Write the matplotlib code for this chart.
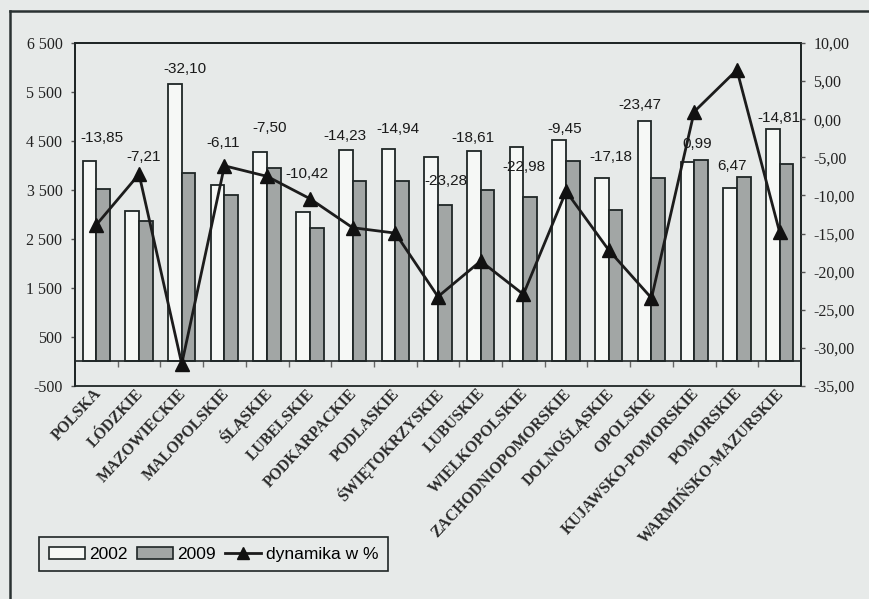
import numpy as np
import matplotlib
matplotlib.use("Agg")
import matplotlib.pyplot as plt
from matplotlib.lines import Line2D
from matplotlib.patches import Rectangle
from matplotlib.ticker import FixedLocator

regions = ["POLSKA", "LÓDZKIE", "MAZOWIECKIE", "MALOPOLSKIE", "ŚLĄSKIE",
           "LUBELSKIE", "PODKARPACKIE", "PODLASKIE", "ŚWIĘTOKRZYSKIE",
           "LUBUSKIE", "WIELKOPOLSKIE", "ZACHODNIOPOMORSKIE", "DOLNOŚLĄSKIE",
           "OPOLSKIE", "KUJAWSKO-POMORSKIE", "POMORSKIE", "WARMIŃSKO-MAZURSKIE"]
v2002 = [4100, 3080, 5670, 3610, 4270, 3050, 4310, 4330, 4170,
         4290, 4370, 4530, 3735, 4905, 4075, 3545, 4735]
v2009 = [3530, 2860, 3850, 3390, 3950, 2730, 3690, 3680, 3200,
         3490, 3365, 4100, 3095, 3755, 4115, 3775, 4035]
dynamika = [-13.85, -7.21, -32.10, -6.11, -7.50, -10.42, -14.23, -14.94, -23.28,
            -18.61, -22.98, -9.45, -17.18, -23.47, 0.99, 6.47, -14.81]

# where the value labels sit (right-axis units) and their sideways nudge
label_y = [-2.4, -5.0, 6.6, -3.1, -1.1, -7.2, -2.2, -1.3, -8.1,
           -2.4, -6.3, -1.3, -5.0, 1.9, -3.2, -6.1, 0.2]
label_dx = [0.13, 0.10, 0.08, -0.04, 0.06, -0.07, -0.18, 0.06, 0.18,
            -0.17, 0.01, -0.04, 0.04, -0.28, 0.06, -0.12, -0.01]

BG = "#e7eae9"
EDGE = "#1f2626"
SANS = ["Liberation Sans", "DejaVu Sans"]
SERIF = ["Liberation Serif", "DejaVu Serif"]

fig = plt.figure(figsize=(8.69, 5.99), dpi=100, facecolor=BG)
ax = fig.add_axes([0.0863, 0.3556, 0.8354, 0.5726])
ax.set_facecolor(BG)

x = np.arange(len(regions))
w = 0.32
ax.bar(x - w / 2, v2002, w, color="#f6f8f6", edgecolor=EDGE, linewidth=1.3, zorder=2)
ax.bar(x + w / 2, v2009, w, color="#a2a6a5", edgecolor=EDGE, linewidth=1.3, zorder=2)

ax.set_xlim(-0.5, len(regions) - 0.5)
ax.set_ylim(-500, 6500)
lticks = np.arange(-500, 6501, 1000)
ax.set_yticks(lticks)
ax.set_yticklabels([f"{t:,.0f}".replace(",", " ") for t in lticks],
                   family=SERIF, fontsize=11.5, color="#222")
ax.tick_params(axis="y", length=3, width=1, color="#555", pad=6)

# category axis runs along zero, ticks between groups
ax.spines["bottom"].set_position(("data", 0))
ax.spines["bottom"].set_color(EDGE)
ax.spines["bottom"].set_linewidth(1.2)
ax.set_xticks([])
ax.xaxis.set_minor_locator(FixedLocator(x[:-1] + 0.5))
ax.tick_params(axis="x", which="minor", length=4, width=1, color="#666", direction="out")
for s in ("left", "top", "right"):
    ax.spines[s].set_color(EDGE)
    ax.spines[s].set_linewidth(1.3)
ax.add_patch(Rectangle((0, 0), 1, 1, transform=ax.transAxes, fill=False,
                       edgecolor=EDGE, linewidth=1.3, clip_on=False, zorder=5))

for xi, name in zip(x, regions):
    ax.text(xi + 0.05, -0.015, name, transform=ax.get_xaxis_transform(),
            rotation=47, rotation_mode="anchor", ha="right", va="center",
            family=SERIF, fontsize=11.3, fontweight="bold", color="#2a2a2a")

ax2 = ax.twinx()
ax2.set_ylim(-35, 10)
rticks = np.arange(-35, 10.1, 5)
ax2.set_yticks(rticks)
ax2.set_yticklabels([f"{t:.2f}".replace(".", ",") for t in rticks],
                    family=SERIF, fontsize=11.5, color="#222")
ax2.tick_params(axis="y", length=3, width=1, color="#555", pad=6)
for s in ax2.spines.values():
    s.set_visible(False)

ax2.plot(x, dynamika, color="#1c1c1c", lw=2, marker="^", markersize=10.5,
         markerfacecolor="#111", markeredgecolor="#111", zorder=3)
for xi, v, ly, dx in zip(x, dynamika, label_y, label_dx):
    ax2.text(xi + dx, ly, f"{v:.2f}".replace(".", ","), ha="center", va="center",
             family=SANS, fontsize=11, color="#1a1a1a", zorder=4)

handles = [Rectangle((0, 0), 1, 1, facecolor="#f6f8f6", edgecolor=EDGE, lw=1.2),
           Rectangle((0, 0), 1, 1, facecolor="#a2a6a5", edgecolor=EDGE, lw=1.2),
           Line2D([], [], color="#1c1c1c", lw=2, marker="^", markersize=8,
                  markerfacecolor="#111", markeredgecolor="#111")]
leg = fig.legend(handles, ["2002", "2009", "dynamika w %"], ncol=3,
                 loc="lower left", bbox_to_anchor=(0.045, 0.046),
                 frameon=True, fancybox=False, edgecolor=EDGE,
                 facecolor=BG, framealpha=1, borderpad=0.55, borderaxespad=0,
                 handlelength=2.1, handleheight=0.7, handletextpad=0.25,
                 columnspacing=0.5, prop={"family": SANS, "size": 12.5})
leg.get_frame().set_linewidth(1.2)

# outer page frame (top and left edges)
fig.add_artist(Line2D([0.011, 1.0], [0.982, 0.982], color="#2a3232", lw=1.8))
fig.add_artist(Line2D([0.011, 0.011], [0.0, 0.982], color="#2a3232", lw=1.8))

fig.savefig("out.png", dpi=100, facecolor=BG)
